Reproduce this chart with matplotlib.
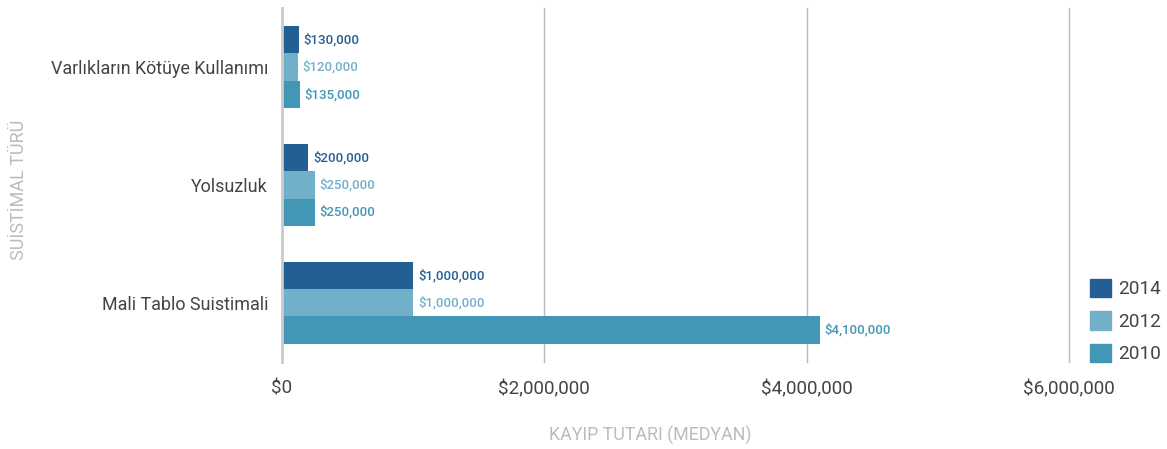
import matplotlib.pyplot as plt
from matplotlib.patches import Patch

# Data
categories = ["Varlıkların Kötüye Kullanımı", "Yolsuzluk", "Mali Tablo Suistimali"]
years = ["2014", "2012", "2010"]
values_2014 = [130000, 200000, 1000000]
values_2012 = [120000, 250000, 1000000]
values_2010 = [135000, 250000, 4100000]
xticks = [0, 2000000, 4000000, 6000000]
xtick_labels = ["$0", "$2,000,000", "$4,000,000", "$6,000,000"]

colors = ["#245f94", "#72b0c9", "#4297b7"]
series = [values_2014, values_2012, values_2010]

plt.rcParams['font.family'] = ['Roboto', 'DejaVu Sans']

fig = plt.figure(figsize=(11.67, 4.49), dpi=100)
ax = fig.add_axes([0.2416, 0.194, 0.6744, 0.788])

h = 0.23
offsets = [-h, 0, h]
for vals, col, off, yr in zip(series, colors, offsets, years):
    pos = [i + off for i in range(len(categories))]
    ax.barh(pos, vals, height=h, color=col, label=yr, zorder=3)
    for p, v in zip(pos, vals):
        ax.annotate(f"${v:,.0f}", (v, p), xytext=(3.5, 0), textcoords='offset points',
                    va='center', ha='left', color=col, fontsize=9.5, fontweight='medium')

ax.set_ylim(2.5, -0.5)
ax.set_xlim(0, 6000000)
ax.set_yticks(range(len(categories)))
ax.set_yticklabels(categories, fontsize=12.9, color='#444444')
ax.set_xticks(xticks)
ax.set_xticklabels(xtick_labels, fontsize=13.6, color='#444444')
ax.tick_params(axis='both', length=0)
ax.tick_params(axis='x', pad=13)
ax.tick_params(axis='y', pad=10)

for s in ['top', 'right', 'bottom']:
    ax.spines[s].set_visible(False)
ax.spines['left'].set_color('#cccccc')
ax.spines['left'].set_linewidth(2)
ax.spines['left'].set_zorder(4)
ax.xaxis.grid(True, color='#bbbbbb', linewidth=1)
for gl in ax.get_xgridlines():
    gl.set_clip_on(False)
ax.set_axisbelow(True)

fig.text(0.557, 0.03, "KAYIP TUTARI (MEDYAN)", ha='center', va='center',
         fontsize=12.8, color='#bbbbbb')
fig.text(0.016, 0.577, "SUİSTİMAL TÜRÜ", ha='center', va='center', rotation=90,
         fontsize=13, color='#bbbbbb')

handles = [Patch(color=c, label=y) for c, y in zip(colors, years)]
fig.legend(handles=handles, loc='center left', bbox_to_anchor=(0.934, 0.285),
           frameon=False, fontsize=13.7, labelcolor='#444444',
           handlelength=1.1, handleheight=1.1, labelspacing=0.68, handletextpad=0.4,
           borderpad=0, borderaxespad=0)

plt.savefig('out.png', dpi=100)
